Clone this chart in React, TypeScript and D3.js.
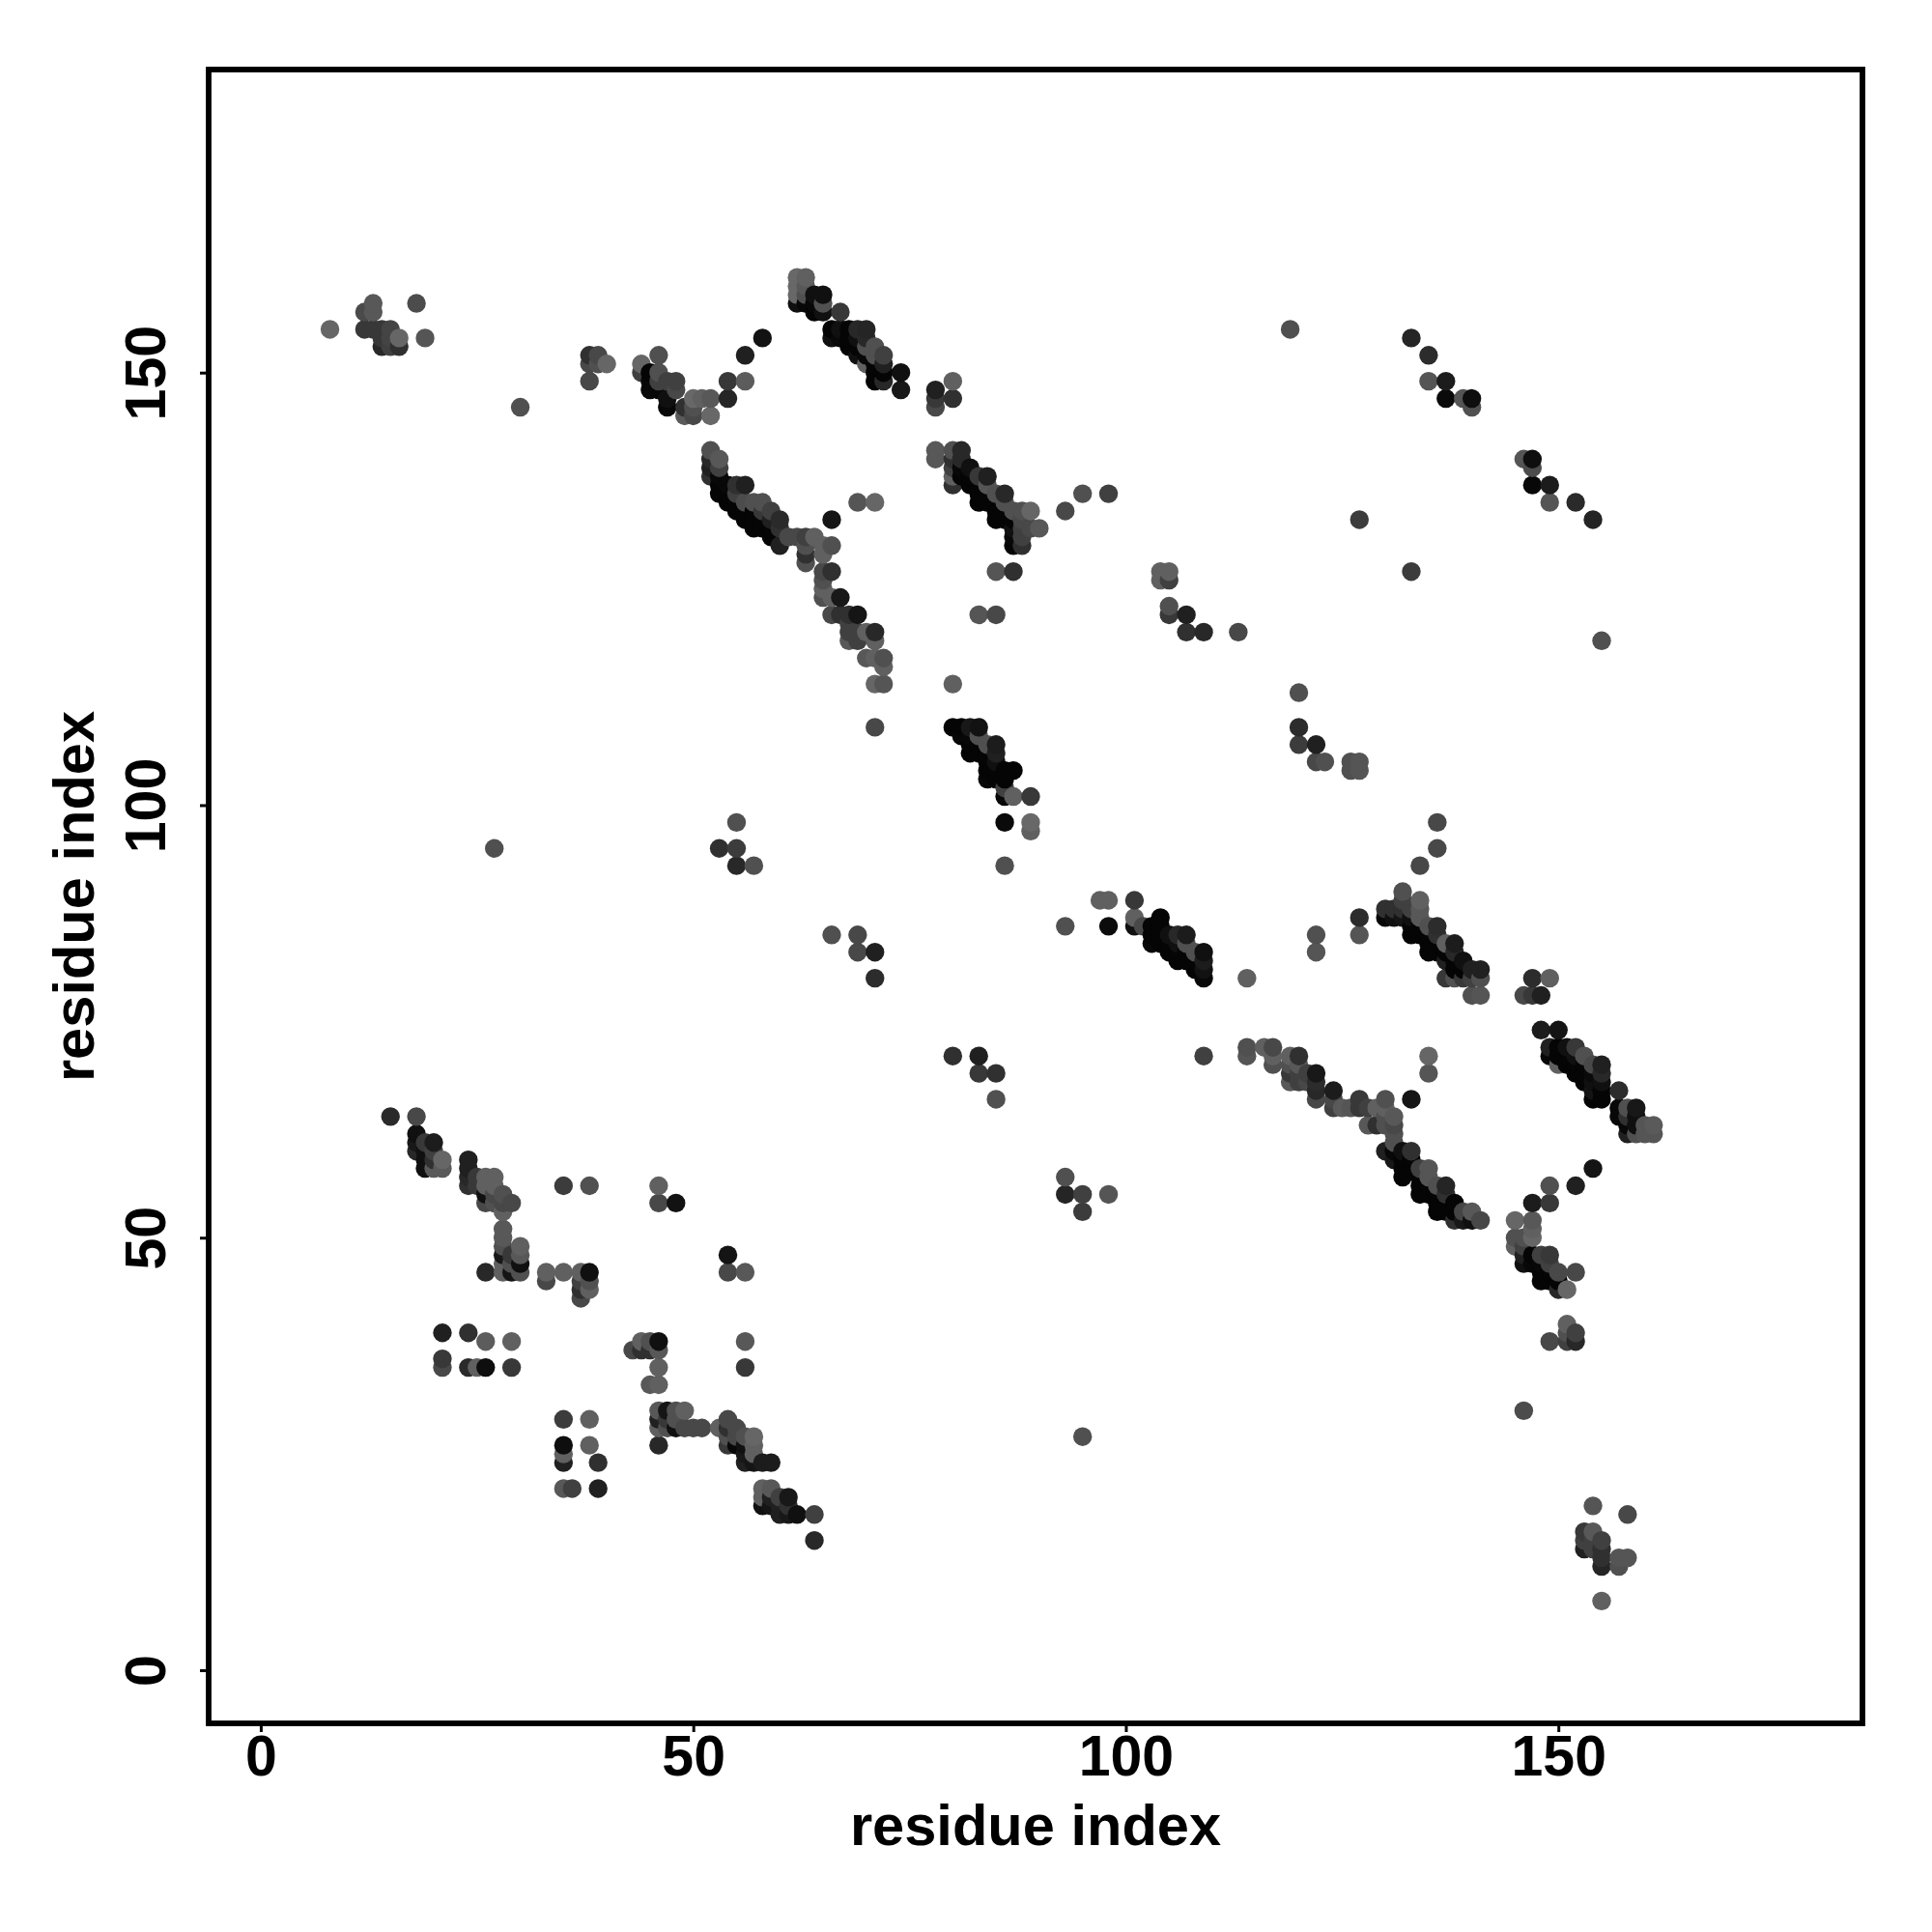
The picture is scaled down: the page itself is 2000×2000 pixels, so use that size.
import { useEffect, useRef } from "react";
import * as d3 from "d3";

// every contact is [residue x, residue y, grey level]
type Contact = [number, number, number];

const xTicks = [0, 50, 100, 150];
const yTicks = [0, 50, 100, 150];
const axisLabel = "residue index";

const topLeftBlock: Contact[] = [
  [8,155,102],[13,158,88],[12,157,74],[13,157,88],[18,158,76],[12,155,56],[13,155,56],[14,155,56],[15,155,68],
  [16,154,102],[19,154,85],[14,153,40],[15,153,64],[16,153,48],[14,154,56],[15,154,68],[30,146,80],
  [38,152,48],[39,152,72],[38,151,72],[39,151,80],[40,151,102],[38,149,72],[44,151,102],[44,150,64],[46,152,80],
  [45,150,5],[45,148,8],[45,149,8],[46,150,80],[46,149,64],[48,149,64],[47,149,64],[48,148,72],[47,146,8],[47,147,16],[46,148,8],
  [49,146,48],[49,145,90],[50,145,72],[50,146,80],[50,147,104],[51,147,96],[52,147,88],[52,145,104],[54,147,37],[54,149,56],
  [56,149,92],[56,152,32],[58,154,18],
];

const strandTop: Contact[] = [
  [62,161,104],[63,161,96],[62,160,104],[63,160,88],[62,159,104],[63,159,80],[62,158,16],[63,158,8],[64,159,16],[65,159,16],
  [64,158,8],[65,158,80],[64,157,5],[65,157,16],[67,157,56],[66,155,5],[66,154,16],[67,155,16],[68,155,5],[69,155,40],[70,155,37],
  [67,154,8],[68,154,5],[69,154,16],[68,153,5],[69,153,5],[70,154,40],[70,153,80],[71,153,80],[71,152,80],[72,152,64],[69,152,16],[70,152,8],
  [70,151,96],[71,151,5],[72,151,32],[71,150,5],[72,150,5],[71,149,5],[72,149,40],[74,150,16],[74,148,24],
  [78,148,32],[78,147,56],[78,146,72],[80,149,96],[80,147,48],
];

const strandMiddleLeft: Contact[] = [
  [52,141,80],[53,140,88],[52,140,40],[52,139,32],[53,139,64],[52,138,48],[53,138,8],[53,137,5],[53,136,5],[54,137,8],[55,137,48],[56,137,32],
  [54,136,5],[55,136,64],[54,135,5],[55,135,5],[56,135,76],[57,135,80],[58,135,80],[58,134,56],[55,134,5],[56,134,5],[57,134,5],
  [56,133,5],[57,133,5],[58,133,5],[57,132,5],[58,132,5],[59,132,5],[59,133,32],[59,134,64],[60,133,42],[60,132,48],[59,131,5],[60,130,32],
  [61,131,72],[62,131,72],[63,131,64],[64,131,96],[65,130,96],[66,130,80],[63,130,80],[63,129,48],[63,128,80],[65,129,96],
  [65,127,72],[66,127,48],[65,126,80],[65,125,96],[65,124,80],[67,124,24],[66,124,96],[66,122,72],[67,122,48],[68,122,48],[69,122,21],
  [68,121,64],[68,120,64],[68,119,88],[69,120,64],[69,119,64],[70,120,96],[71,120,40],[71,119,96],[70,117,88],[71,117,96],[72,117,80],
  [72,116,96],[71,114,102],[72,114,85],[71,109,72],[66,133,21],[69,135,85],[71,135,102],
];

const strandMiddleRight: Contact[] = [
  [78,141,88],[78,140,88],[80,141,80],[81,141,40],[80,140,48],[80,139,64],[80,138,96],[80,137,48],[81,140,40],[82,139,16],[81,139,8],
  [81,138,5],[82,138,5],[83,138,56],[84,138,32],[82,137,5],[83,137,5],[84,137,85],[83,136,5],[84,136,5],[83,135,5],[84,135,5],[85,136,80],[86,136,40],
  [85,135,5],[85,134,5],[85,133,5],[86,135,80],[86,134,5],[86,133,5],[87,134,80],[88,134,80],[89,134,102],[87,133,5],[88,133,72],[88,132,64],[89,132,72],[90,132,88],
  [87,132,16],[87,131,8],[87,130,5],[88,130,48],[88,131,64],[93,134,72],[95,136,80],[98,136,64],
  [85,127,85],[87,127,48],[83,122,85],[85,122,72],[80,114,96],
];

const blockUpperMiddle: Contact[] = [
  [104,127,96],[105,127,96],[104,126,96],[105,126,64],[105,123,80],[105,122,56],[107,122,32],[107,120,48],[109,120,40],[113,120,72],
  [119,155,80],[133,154,37],[135,152,44],[135,149,85],[137,149,28],[137,147,10],[139,147,85],[140,146,80],[140,147,14],
  [146,140,85],[147,139,76],[147,140,14],[147,137,8],[149,137,28],[149,135,85],[152,135,42],[154,133,36],[127,133,60],[133,127,60],[155,119,80],
  [120,113,80],[120,109,44],[120,107,60],[122,107,32],[122,105,72],[123,105,80],[126,105,80],[127,105,85],[126,104,80],[127,104,85],
];

const strandCentreLeft: Contact[] = [
  [80,109,5],[81,109,5],[82,109,24],[83,109,18],[81,108,8],[83,108,80],[82,108,8],[82,107,5],[82,106,5],[83,107,5],[84,107,80],[85,107,28],
  [85,106,32],[84,106,5],[84,105,5],[83,106,5],[85,105,16],[84,103,8],[84,104,5],[85,104,5],[86,104,5],[87,104,5],[85,103,5],[86,103,5],
  [86,102,64],[86,101,8],[87,101,96],[89,101,56],[86,98,10],[89,98,104],[89,97,96],[86,93,80],
  [27,95,80],[53,95,48],[55,95,60],[55,93,40],[57,93,80],[55,98,80],[66,85,80],[69,85,72],[69,83,72],[71,83,32],[71,80,44],
  [80,71,48],[83,71,32],[83,69,56],[85,69,48],[85,66,80],[93,57,80],[93,55,37],[95,55,64],[95,53,60],[98,55,85],[95,27,80],
];

const strandCentre: Contact[] = [
  [93,86,80],[97,89,96],[98,89,96],[98,86,12],[101,89,56],[101,87,96],[101,86,16],[102,86,72],[103,86,5],[104,87,5],[104,86,5],
  [103,85,5],[103,84,8],[104,85,5],[104,84,5],[105,85,16],[106,85,40],[107,85,28],[106,84,16],[107,84,80],[105,84,5],[105,83,5],[106,83,5],
  [106,82,5],[107,83,5],[107,82,5],[108,83,80],[109,83,16],[108,82,5],[109,82,28],[108,81,5],[109,81,18],[109,80,8],[114,80,96],[109,71,64],
  [122,85,80],[122,83,85],
];

const strandLowerRight: Contact[] = [
  [114,72,80],[114,71,85],[116,72,96],[117,72,72],[117,70,80],[117,71,96],[119,71,96],[120,71,48],[119,70,80],[120,70,88],[119,69,56],
  [119,68,88],[120,69,64],[120,68,64],[121,69,64],[121,68,72],[122,69,24],[122,68,44],[122,67,40],[122,66,72],[124,67,28],[124,66,72],[124,65,64],
  [125,65,90],[126,65,85],[127,66,56],[127,65,56],[128,65,64],[129,65,96],[130,66,80],[133,66,21],[135,71,102],[135,69,85],
  [130,65,96],[131,64,88],[128,63,88],[129,63,48],[130,63,80],[131,63,72],[131,62,80],[131,61,80],[130,64,80],
  [130,60,32],[132,60,16],[133,60,48],[131,60,8],[131,59,24],[132,59,5],[132,57,5],[132,58,5],[133,59,5],[133,58,5],[134,58,64],[135,58,85],
  [134,57,5],[135,57,85],[134,56,5],[134,55,5],[135,56,5],[136,56,80],[137,56,37],[137,55,48],[136,55,5],[136,53,5],[137,54,5],[136,54,5],
  [135,55,5],[138,54,5],[138,52,48],[138,53,5],[137,53,5],[139,52,24],[140,52,16],[139,53,69],[140,53,88],[141,52,72],
];

const blockBelowStrand: Contact[] = [
  [149,56,80],[152,56,32],[147,54,28],[149,54,56],[145,52,102],[147,52,88],[147,51,96],[147,50,102],[145,50,80],[146,50,80],[145,49,96],
  [146,49,64],[146,48,32],[146,47,16],[147,48,5],[148,48,64],[149,48,56],[147,47,8],[148,47,8],[149,47,64],[150,46,72],[148,46,5],[148,45,5],
  [149,46,5],[149,45,5],[150,45,5],[151,44,102],[150,44,40],[152,46,72],[154,58,20],
  [151,40,96],[151,39,80],[152,39,64],[149,38,72],[151,38,64],[152,38,40],[146,30,76],
  [154,19,85],[158,18,72],[153,16,56],[154,16,88],[155,15,64],[153,15,64],[154,15,64],[153,14,32],[154,14,64],[155,14,48],[155,13,48],
  [155,12,37],[157,12,80],[157,13,85],[158,13,85],[155,8,96],
];

const strandUpperRight: Contact[] = [
  [136,98,72],[136,95,72],[134,93,72],[132,90,80],[134,89,96],[132,89,64],[130,88,48],[130,87,8],[131,88,48],[131,87,16],[132,88,48],[133,88,64],
  [134,88,88],[134,87,88],[132,87,21],[133,87,16],[133,86,5],[133,85,5],[134,86,5],[134,85,5],[135,86,80],[136,86,44],[135,85,5],[136,85,48],[135,83,5],[137,84,96],[138,84,28],
  [136,84,5],[135,84,5],[138,83,40],[137,83,5],[139,82,16],[137,82,32],[138,82,5],[136,83,5],[138,81,5],[139,81,5],[140,81,32],[141,81,32],[140,80,64],[141,80,80],
  [137,80,56],[138,80,80],[139,80,56],[140,78,80],[141,78,85],[127,87,44],[127,85,85],
  [147,80,44],[149,80,96],[146,78,72],[147,78,56],[148,78,32],
];

const strandFarRight: Contact[] = [
  [148,74,28],[150,74,20],[149,72,32],[149,71,8],[150,72,5],[151,72,16],[152,72,56],[153,71,80],[151,71,5],[152,71,16],[150,71,5],[150,70,96],
  [151,70,5],[152,70,5],[153,70,5],[154,70,72],[152,69,5],[155,70,32],[155,69,40],[154,69,10],[153,69,5],[155,68,16],[154,68,16],[153,68,5],[154,66,5],[155,66,5],
  [155,67,5],[154,67,21],[157,67,44],[157,65,8],[157,64,8],[158,65,80],[159,65,24],[159,64,16],[158,64,48],[158,63,8],[158,62,32],[159,62,80],
  [160,62,85],[161,62,85],[160,63,85],[161,63,90],[159,63,16],
];

const strandBottomLeft: Contact[] = [
  [15,64,42],[18,64,72],[18,62,16],[18,61,24],[18,60,40],[19,61,56],[19,60,16],[20,61,28],[20,60,64],[19,58,16],[19,59,16],[20,58,90],[21,59,102],[21,58,90],[20,59,48],
  [24,59,32],[24,58,32],[24,57,40],[24,56,48],[25,57,56],[25,56,56],[26,57,96],[27,57,96],[26,56,96],[27,56,96],[26,55,16],[26,54,72],[27,55,72],
  [28,55,80],[27,54,80],[28,54,72],[29,54,72],[28,53,96],[35,56,60],[38,56,80],[46,56,96],[46,54,72],[48,54,18],
  [28,51,88],[28,50,88],[28,49,80],[28,48,24],[28,47,96],[28,46,96],[30,49,96],[30,48,88],[30,47,16],[30,46,80],[29,48,56],[29,47,80],[29,46,21],
  [26,46,40],[33,46,96],[33,45,72],[35,46,96],[37,46,96],[38,46,16],[38,45,80],[38,44,96],[37,45,64],[37,44,48],[37,43,72],
  [54,48,20],[54,46,72],[56,46,88],[21,39,32],[24,39,48],[26,38,92],[29,38,96],[21,36,56],[21,35,72],[24,35,42],[25,35,96],[26,35,14],[29,35,56],
];

const strandBottomMiddle: Contact[] = [
  [43,37,72],[44,38,96],[44,37,48],[45,38,80],[45,37,48],[46,38,16],[46,37,88],[46,35,96],[45,33,88],[46,33,96],[56,38,88],[56,35,56],
  [35,29,60],[38,29,96],[35,26,14],[35,25,96],[35,24,32],[38,26,96],[39,24,48],[35,21,88],[36,21,64],[39,21,32],
  [46,30,88],[47,30,21],[48,30,80],[49,30,96],[46,29,32],[47,29,56],[48,29,80],[46,28,96],[47,28,80],[48,28,16],[49,28,72],[50,28,72],[51,28,72],[46,26,40],
  [53,28,96],[54,29,72],[54,28,48],[54,27,80],[54,26,56],[55,28,72],[55,27,72],[55,26,8],[56,27,80],[57,27,102],[57,26,96],[56,26,16],[56,24,32],[57,25,96],[57,24,21],
  [56,25,24],[58,24,28],[59,24,28],[58,21,96],[59,21,88],[58,20,96],[58,19,16],[59,20,32],[60,20,64],[61,20,24],[60,19,32],[61,19,48],[60,18,32],[61,18,24],[62,18,16],[59,19,21],
  [64,18,64],[64,15,40],
];

const allContacts: Contact[] = [
  ...topLeftBlock, ...strandTop, ...strandMiddleLeft, ...strandMiddleRight, ...blockUpperMiddle, ...strandCentreLeft, ...strandCentre,
  ...strandLowerRight, ...blockBelowStrand, ...strandUpperRight, ...strandFarRight, ...strandBottomLeft, ...strandBottomMiddle,
];

export default function App() {
  const svgRef = useRef<SVGSVGElement>(null);

  useEffect(() => {
    if (!svgRef.current) return;
    const box = { left: 216, right: 1928, top: 72, bottom: 1784 };
    const fontFamily = "'Liberation Sans', Arial, sans-serif";

    const svg = d3.select(svgRef.current);
    svg.selectAll("*").remove();

    const xScale = d3.scaleLinear().domain([-6.02, 185.15]).range([box.left, box.right]);
    const yScale = d3.scaleLinear().domain([-6.14, 185.03]).range([box.bottom, box.top]);
    const grey = d3.scaleLinear<string>().domain([0, 255]).range(["#000000", "#ffffff"]);

    // R plots column by column, so later x and higher y sit on top
    const ordered = [...allContacts].sort((a, b) => d3.ascending(a[0], b[0]) || d3.ascending(a[1], b[1]));

    svg.append("g")
      .selectAll("circle")
      .data(ordered)
      .enter()
      .append("circle")
      .attr("cx", d => xScale(d[0]))
      .attr("cy", d => yScale(d[1]))
      .attr("r", 9.7)
      .attr("fill", d => grey(d[2]));

    svg.append("rect")
      .attr("x", box.left)
      .attr("y", box.top)
      .attr("width", box.right - box.left)
      .attr("height", box.bottom - box.top)
      .attr("fill", "none")
      .attr("stroke", "#000")
      .attr("stroke-width", 5.8);

    const xAxis = d3.axisBottom(xScale).tickValues(xTicks).tickSize(9).tickFormat(d3.format("d"));
    const gx = svg.append("g").attr("transform", `translate(0,${box.bottom})`).call(xAxis);
    gx.select(".domain").remove();
    gx.selectAll("line").attr("stroke", "#000").attr("stroke-width", 3);
    gx.selectAll("text")
      .attr("fill", "#000")
      .attr("font-family", fontFamily)
      .attr("font-weight", "bold")
      .attr("font-size", 59)
      .attr("dy", null)
      .attr("y", 54);

    const yAxis = d3.axisLeft(yScale).tickValues(yTicks).tickSize(9).tickFormat(d3.format("d"));
    const gy = svg.append("g").attr("transform", `translate(${box.left},0)`).call(yAxis);
    gy.select(".domain").remove();
    gy.selectAll("line").attr("stroke", "#000").attr("stroke-width", 3);
    gy.selectAll("text")
      .attr("fill", "#000")
      .attr("font-family", fontFamily)
      .attr("font-weight", "bold")
      .attr("font-size", 59)
      .attr("x", null)
      .attr("dy", null)
      .attr("text-anchor", "middle")
      .attr("transform", "translate(-45,0) rotate(-90)");

    svg.append("text")
      .attr("x", (box.left + box.right) / 2)
      .attr("y", 1910)
      .attr("text-anchor", "middle")
      .attr("font-family", fontFamily)
      .attr("font-weight", "bold")
      .attr("font-size", 59.6)
      .text(axisLabel);

    svg.append("text")
      .attr("transform", `translate(97,${(box.top + box.bottom) / 2}) rotate(-90)`)
      .attr("text-anchor", "middle")
      .attr("font-family", fontFamily)
      .attr("font-weight", "bold")
      .attr("font-size", 59.6)
      .text(axisLabel);
  }, []);

  return (
    <div style={{ position: "absolute", left: 0, top: 0 }}>
      <svg ref={svgRef} width={2000} height={2000} style={{ display: "block", background: "#fff" }}></svg>
    </div>
  );
}
